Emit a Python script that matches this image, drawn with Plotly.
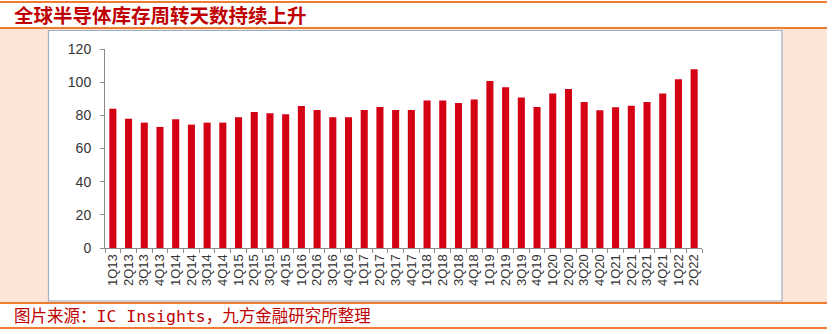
import plotly.graph_objects as go

# Global semiconductor inventory days by quarter
quarters = [
    "1Q13", "2Q13", "3Q13", "4Q13",
    "1Q14", "2Q14", "3Q14", "4Q14",
    "1Q15", "2Q15", "3Q15", "4Q15",
    "1Q16", "2Q16", "3Q16", "4Q16",
    "1Q17", "2Q17", "3Q17", "4Q17",
    "1Q18", "2Q18", "3Q18", "4Q18",
    "1Q19", "2Q19", "3Q19", "4Q19",
    "1Q20", "2Q20", "3Q20", "4Q20",
    "1Q21", "2Q21", "3Q21", "4Q21",
    "1Q22", "2Q22",
]
inventory_days = [
    84, 78, 75.6, 73,
    77.6, 74.4, 75.6, 75.6,
    78.8, 82, 81.2, 80.6,
    85.6, 83.2, 78.8, 78.8,
    83.2, 85, 83.2, 83.2,
    88.9, 88.9, 87.5, 89.5,
    100.7, 96.9, 90.7, 85,
    93.1, 95.9, 88.1, 83,
    84.8, 85.8, 88.1, 93.1,
    101.7, 107.8,
]
y_ticks = [0, 20, 40, 60, 80, 100, 120]

title_text = "全球半导体库存周转天数持续上升"
source_text = "图片来源：IC Insights，九方金融研究所整理"

W, H = 834, 334
ORANGE = "#ef7d31"
PINK = "#fce4d6"
RED_TEXT = "#c00000"
BAR_RED = "#d40014"


def px_x(x):
    return x / W


def px_y(y):
    return 1 - y / H


fig = go.Figure(
    go.Bar(
        x=quarters,
        y=inventory_days,
        marker=dict(color=BAR_RED, line=dict(width=0)),
        width=0.45,
        hoverinfo="x+y",
    )
)

shapes = []
# pink side panel
shapes.append(dict(type="rect", xref="paper", yref="paper",
                   x0=px_x(0), x1=px_x(827), y0=px_y(303), y1=px_y(28),
                   fillcolor=PINK, line=dict(width=0), layer="below"))
# white chart panel with thin border
shapes.append(dict(type="rect", xref="paper", yref="paper",
                   x0=px_x(48.5), x1=px_x(782), y0=px_y(301), y1=px_y(30.5),
                   fillcolor="white", line=dict(color="#9eb0c2", width=1.2),
                   layer="below"))
# orange rules around title and source
for yy in (2, 28, 303, 328):
    shapes.append(dict(type="line", xref="paper", yref="paper",
                       x0=px_x(0), x1=px_x(827), y0=px_y(yy), y1=px_y(yy),
                       line=dict(color=ORANGE, width=2)))

annotations = [
    dict(text=f"<b>{title_text}</b>", xref="paper", yref="paper",
         x=px_x(12), y=px_y(15), xanchor="left", yanchor="middle",
         showarrow=False,
         font=dict(family="Noto Sans CJK SC", size=19.5, color=RED_TEXT)),
    dict(text=source_text, xref="paper", yref="paper",
         x=px_x(12), y=px_y(316), xanchor="left", yanchor="middle",
         showarrow=False,
         font=dict(family="DejaVu Sans Mono, Noto Sans CJK SC", size=16.5,
                   color=RED_TEXT)),
]

fig.update_layout(
    template="none",
    width=W, height=H,
    margin=dict(l=0, r=0, t=0, b=0, pad=0, autoexpand=False),
    paper_bgcolor="white",
    plot_bgcolor="rgba(0,0,0,0)",
    showlegend=False,
    shapes=shapes,
    annotations=annotations,
    bargap=0.55,
    xaxis=dict(
        domain=[px_x(105), px_x(702)],
        type="category",
        automargin=False,
        tickmode="array",
        tickvals=quarters,
        ticktext=quarters,
        tickangle=-90,
        ticks="outside", ticklen=4, tickcolor="#8a8a8a", tickwidth=1,
        tickson="boundaries",
        showline=True, linecolor="#8a8a8a", linewidth=1,
        showgrid=False, zeroline=False,
        tickfont=dict(family="Arial, Liberation Sans", size=13,
                      color="#333333"),
    ),
    yaxis=dict(
        domain=[px_y(248), px_y(49)],
        range=[0, 120],
        automargin=False,
        tickvals=y_ticks,
        ticks="outside", ticklen=4, tickcolor="#8a8a8a", tickwidth=1,
        showline=True, linecolor="#8a8a8a", linewidth=1,
        showgrid=False, zeroline=False,
        ticklabelstandoff=6,
        tickfont=dict(family="Arial, Liberation Sans", size=14,
                      color="#333333"),
    ),
)

fig.write_html("out.html")
